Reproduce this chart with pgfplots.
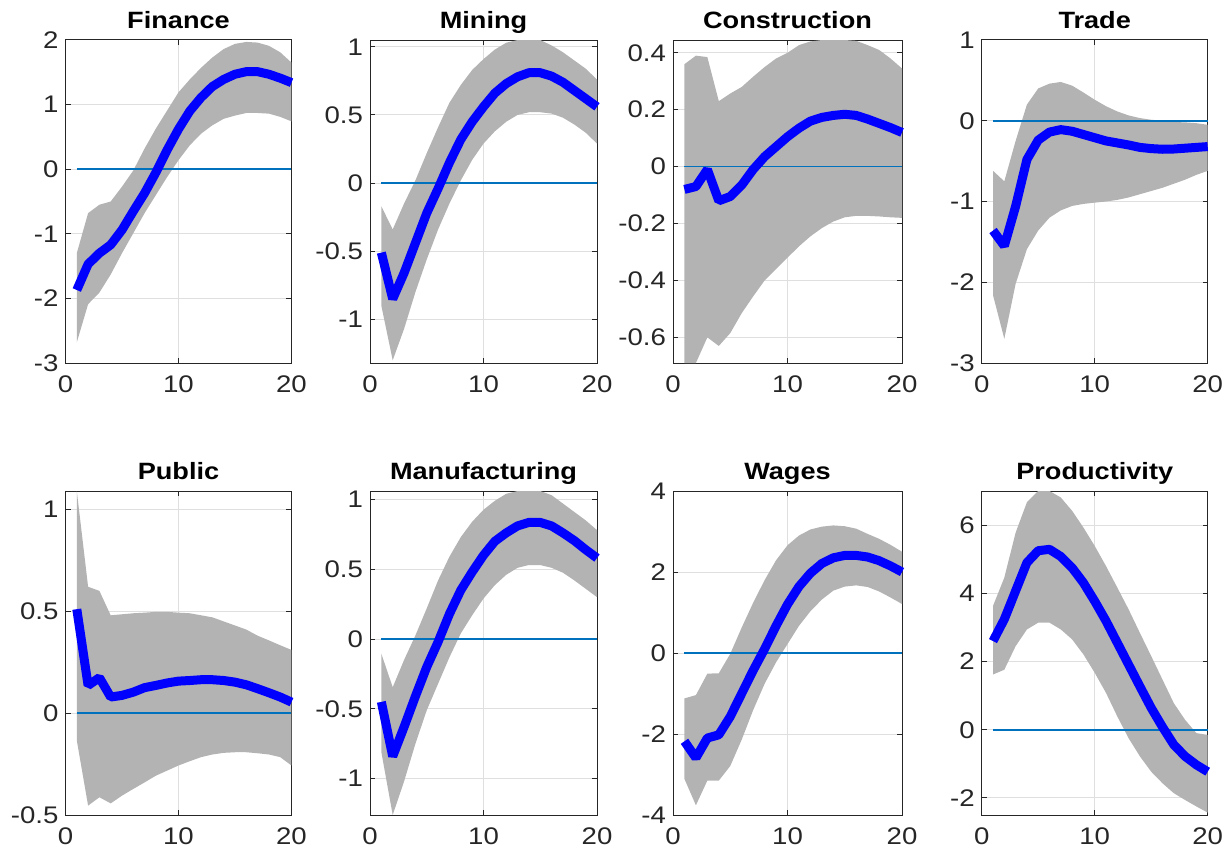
\documentclass[border=0pt]{standalone}
\usepackage{fontspec}
\setmainfont{Liberation Sans}[FakeStretch=1.15]
\usepackage{pgfplots}
\usepackage{pgfplotstable}
\pgfplotsset{compat=1.18}
\usepgfplotslibrary{fillbetween}
\definecolor{axcol}{HTML}{262626}
\definecolor{band}{HTML}{B3B3B3}
\definecolor{zline}{HTML}{0072BD}
\definecolor{irfblue}{HTML}{0000FF}

\pgfplotstableread{
x m lo hi
1 -1.87 -2.68 -1.30
2 -1.47 -2.09 -0.68
3 -1.30 -1.91 -0.55
4 -1.17 -1.63 -0.50
5 -0.94 -1.30 -0.27
6 -0.65 -0.99 -0.02
7 -0.37 -0.68 0.32
8 -0.05 -0.40 0.63
9 0.30 -0.12 0.91
10 0.62 0.14 1.19
11 0.90 0.37 1.39
12 1.11 0.55 1.57
13 1.28 0.68 1.73
14 1.39 0.78 1.86
15 1.47 0.83 1.94
16 1.51 0.87 1.97
17 1.51 0.87 1.96
18 1.47 0.86 1.91
19 1.41 0.81 1.81
20 1.34 0.74 1.65
}\tFin

\pgfplotstableread{
x m lo hi
1 -0.51 -0.90 -0.17
2 -0.85 -1.30 -0.34
3 -0.66 -1.07 -0.15
4 -0.44 -0.80 0.02
5 -0.22 -0.56 0.22
6 -0.04 -0.34 0.41
7 0.15 -0.15 0.59
8 0.32 0.02 0.72
9 0.45 0.17 0.83
10 0.56 0.29 0.91
11 0.66 0.38 0.98
12 0.73 0.45 1.03
13 0.78 0.50 1.05
14 0.81 0.52 1.05
15 0.81 0.52 1.05
16 0.785 0.51 1.01
17 0.74 0.48 0.96
18 0.68 0.43 0.90
19 0.62 0.37 0.84
20 0.56 0.29 0.76
}\tMin

\pgfplotstableread{
x m lo hi
1 -0.08 -0.69 0.36
2 -0.07 -0.69 0.39
3 -0.01 -0.60 0.385
4 -0.12 -0.63 0.23
5 -0.105 -0.585 0.257
6 -0.065 -0.515 0.28
7 -0.01 -0.456 0.316
8 0.035 -0.40 0.35
9 0.07 -0.36 0.38
10 0.105 -0.32 0.40
11 0.135 -0.28 0.427
12 0.16 -0.245 0.44
13 0.173 -0.216 0.445
14 0.18 -0.193 0.445
15 0.184 -0.178 0.445
16 0.18 -0.173 0.442
17 0.167 -0.173 0.427
18 0.152 -0.175 0.41
19 0.137 -0.178 0.38
20 0.12 -0.18 0.345
}\tCon

\pgfplotstableread{
x m lo hi
1 -1.36 -2.16 -0.62
2 -1.55 -2.70 -0.75
3 -1.06 -2.02 -0.25
4 -0.48 -1.59 0.20
5 -0.24 -1.36 0.40
6 -0.14 -1.20 0.46
7 -0.11 -1.11 0.48
8 -0.13 -1.055 0.435
9 -0.17 -1.03 0.35
10 -0.21 -1.014 0.26
11 -0.25 -1.00 0.18
12 -0.275 -0.98 0.115
13 -0.30 -0.95 0.066
14 -0.33 -0.91 0.033
15 -0.345 -0.87 0.012
16 -0.353 -0.83 0.0
17 -0.35 -0.78 -0.016
18 -0.34 -0.73 -0.02
19 -0.33 -0.67 -0.03
20 -0.32 -0.62 -0.05
}\tTra

\pgfplotstableread{
x m lo hi
1 0.51 -0.134 1.09
2 0.136 -0.454 0.62
3 0.174 -0.413 0.60
4 0.079 -0.443 0.48
5 0.087 -0.405 0.485
6 0.103 -0.372 0.49
7 0.125 -0.34 0.493
8 0.136 -0.307 0.497
9 0.148 -0.282 0.497
10 0.157 -0.257 0.493
11 0.16 -0.236 0.49
12 0.164 -0.216 0.48
13 0.164 -0.203 0.47
14 0.16 -0.195 0.45
15 0.152 -0.192 0.43
16 0.139 -0.192 0.41
17 0.12 -0.197 0.38
18 0.10 -0.203 0.357
19 0.079 -0.216 0.333
20 0.054 -0.257 0.31
}\tPub

\pgfplotstableread{
x m lo hi
1 -0.45 -0.81 -0.105
2 -0.84 -1.26 -0.345
3 -0.63 -1.02 -0.15
4 -0.41 -0.75 0.026
5 -0.20 -0.51 0.22
6 -0.02 -0.32 0.42
7 0.18 -0.13 0.59
8 0.35 0.04 0.73
9 0.48 0.17 0.84
10 0.60 0.29 0.926
11 0.70 0.386 0.99
12 0.76 0.46 1.04
13 0.81 0.51 1.06
14 0.835 0.53 1.06
15 0.835 0.53 1.06
16 0.81 0.51 1.03
17 0.76 0.475 0.97
18 0.705 0.42 0.91
19 0.64 0.36 0.85
20 0.58 0.30 0.78
}\tMan

\pgfplotstableread{
x m lo hi
1 -2.18 -3.11 -1.12
2 -2.59 -3.76 -1.04
3 -2.10 -3.15 -0.51
4 -2.02 -3.15 -0.50
5 -1.57 -2.79 -0.02
6 -1.00 -2.14 0.63
7 -0.43 -1.41 1.24
8 0.10 -0.76 1.80
9 0.67 -0.23 2.29
10 1.20 0.22 2.66
11 1.64 0.67 2.90
12 1.97 1.03 3.05
13 2.21 1.32 3.12
14 2.35 1.54 3.15
15 2.41 1.64 3.13
16 2.41 1.67 3.07
17 2.37 1.63 2.94
18 2.28 1.52 2.82
19 2.15 1.37 2.67
20 2.00 1.21 2.50
}\tWag

\pgfplotstableread{
x m lo hi
1 2.60 1.62 3.63
2 3.24 1.76 4.46
3 4.07 2.45 5.78
4 4.90 2.94 6.67
5 5.25 3.14 7.0
6 5.29 3.14 7.0
7 5.08 2.94 6.81
8 4.75 2.65 6.42
9 4.31 2.21 5.93
10 3.77 1.67 5.39
11 3.19 1.08 4.80
12 2.55 0.39 4.17
13 1.91 -0.25 3.53
14 1.27 -0.78 2.84
15 0.64 -1.23 2.16
16 0.08 -1.57 1.47
17 -0.44 -1.86 0.78
18 -0.78 -2.06 0.29
19 -1.03 -2.25 -0.10
20 -1.23 -2.43 -0.15
}\tPro

\pgfplotsset{irf/.style={
  anchor=south west, scale only axis,
  xmin=0, xmax=20, xtick={0,10,20}, clip=false,
  grid=major, major grid style={draw=gray!25, line width=0.5pt},
  axis line style={draw=axcol, line width=0.5pt},
  every tick/.style={draw=axcol, line width=0.5pt},
  tick align=inside, major tick length=2.5pt,
  ticklabel style={font=\fontsize{12}{14}\selectfont, text=axcol},
  xticklabel style={yshift=-3pt},
  title style={font=\bfseries\fontsize{11.8}{13}\selectfont, text depth=0.3em, inner sep=0pt, yshift=-3.5pt},
  /pgf/number format/assume math mode=true,
  /pgf/number format/fixed,
}}

\newcommand{\irf}[2]{%
  \addplot[name path=hi, draw=none, forget plot] table[x=x,y=hi]{#1};
  \addplot[name path=lo, draw=none, forget plot] table[x=x,y=lo]{#1};
  \addplot[fill=band, draw=none, forget plot] fill between[of=hi and lo];
  \addplot[draw=zline, line width=#2, forget plot] coordinates {(1,0) (20,0)};
  \addplot[draw=irfblue, line width=4.5pt, line join=bevel, forget plot] table[x=x,y=m]{#1};
}

\begin{document}
\begin{tikzpicture}
% Row 1
\begin{axis}[irf, at={(32.75pt,242.5pt)}, width=113pt, height=161.5pt,
  title={Finance}, ymin=-3, ymax=2, ytick={-3,-2,-1,0,1,2}]
  \irf{\tFin}{0.8pt}
\end{axis}
\begin{axis}[irf, at={(185pt,242.5pt)}, width=113.5pt, height=161.5pt,
  title={Mining}, ymin=-1.32, ymax=1.05, ytick={-1,-0.5,0,0.5,1}]
  \irf{\tMin}{0.8pt}
\end{axis}
\begin{axis}[irf, at={(336.5pt,242.5pt)}, width=114.5pt, height=161.5pt,
  title={Construction}, ymin=-0.69, ymax=0.445, ytick={-0.6,-0.4,-0.2,0,0.2,0.4}]
  \irf{\tCon}{0.8pt}
\end{axis}
\begin{axis}[irf, at={(490.85pt,242.5pt)}, width=113pt, height=161.5pt,
  title={Trade}, ymin=-3, ymax=1, ytick={-3,-2,-1,0,1}]
  \irf{\tTra}{1.2pt}
\end{axis}
% Row 2
\begin{axis}[irf, at={(32.75pt,16.5pt)}, width=113pt, height=162pt,
  title={Public}, ymin=-0.5, ymax=1.09, ytick={-0.5,0,0.5,1}]
  \irf{\tPub}{0.8pt}
\end{axis}
\begin{axis}[irf, at={(185pt,16.5pt)}, width=113.5pt, height=162pt,
  title={Manufacturing}, ymin=-1.26, ymax=1.06, ytick={-1,-0.5,0,0.5,1}]
  \irf{\tMan}{0.8pt}
\end{axis}
\begin{axis}[irf, at={(336.5pt,16.5pt)}, width=114.5pt, height=162pt,
  title={Wages}, ymin=-4, ymax=4, ytick={-4,-2,0,2,4}]
  \irf{\tWag}{1.2pt}
\end{axis}
\begin{axis}[irf, at={(490.85pt,16.5pt)}, width=113pt, height=162pt,
  title={Productivity}, ymin=-2.5, ymax=7, ytick={-2,0,2,4,6}]
  \irf{\tPro}{0.8pt}
\end{axis}
\pgfresetboundingbox
\useasboundingbox (0,0) rectangle (615pt,424pt);
\end{tikzpicture}
\end{document}
